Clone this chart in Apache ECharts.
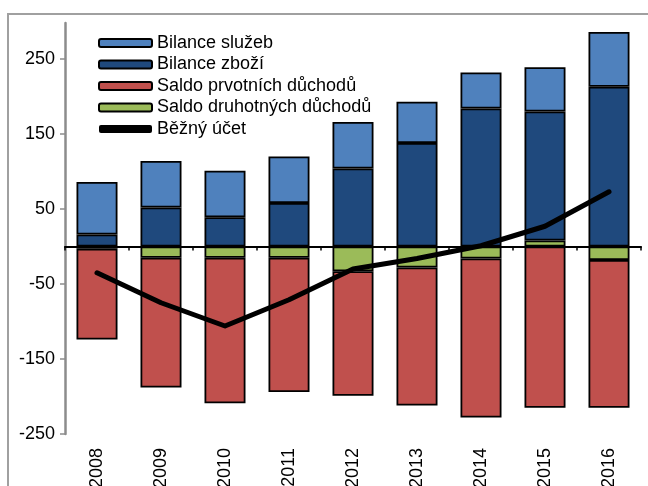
<!DOCTYPE html>
<html>
<head>
<meta charset="utf-8">
<script src="https://cdn.jsdelivr.net/npm/echarts@6/dist/echarts.min.js"></script>
<style>
  html, body { margin: 0; padding: 0; background: #fff; }
  #main { width: 648px; height: 486px; }
</style>
</head>
<body>
<div id="main"></div>
<script>
var years = ['2008', '2009', '2010', '2011', '2012', '2013', '2014', '2015', '2016'];
var sluzby = [70, 62, 62, 62, 62, 55, 48, 59, 73];
var zbozi = [16, 52, 39, 58, 104, 138, 184, 172, 213];
var prvotni = [-121, -173, -194, -179, -166, -184, -212, -215, -197];
var druhotne = [-3, -15, -15, -15, -33, -28, -16, 8, -18];
var bezny = [-35, -75, -106, -71, -30, -16, 1, 27, 73];
var yTicks = [-250, -150, -50, 50, 150, 250];

var font = 'Liberation Sans, Arial, sans-serif';
var chart = echarts.init(document.getElementById('main'));

function bar(name, data, color) {
  return {
    name: name,
    type: 'bar',
    stack: 'all',
    data: data,
    barWidth: 41,
    itemStyle: { color: color, borderColor: '#000', borderWidth: 1.8 }
  };
}

var option = {
  animation: false,
  textStyle: { fontFamily: font },
  graphic: [{
    type: 'rect',
    shape: { x: 8, y: 14, width: 700, height: 600 },
    style: { fill: 'none', stroke: '#a0a0a0', lineWidth: 2 },
    silent: true
  }],
  grid: { left: 65, right: 7, top: 23, bottom: 52, outerBoundsMode: 'none' },
  legend: {
    orient: 'vertical',
    left: 93,
    top: 29,
    itemWidth: 53,
    itemHeight: 8,
    itemGap: 3.5,
    textStyle: { fontSize: 18, color: '#000', fontFamily: font, lineHeight: 18 },
    data: [
      'Bilance služeb',
      'Bilance zboží',
      'Saldo prvotních důchodů',
      'Saldo druhotných důchodů',
      { name: 'Běžný účet', icon: 'roundRect', itemStyle: { color: '#000', borderWidth: 0 } }
    ]
  },
  xAxis: [{
    type: 'category',
    data: years,
    position: 'bottom',
    axisLine: { show: false, onZero: false },
    axisTick: { show: false },
    axisLabel: { rotate: 90, fontSize: 18, color: '#000', margin: 14, fontFamily: font }
  }, {
    type: 'category',
    data: years,
    position: 'top',
    axisLine: { show: true, onZero: true, lineStyle: { color: '#000', width: 2 } },
    axisTick: { show: true, inside: true, length: 4, lineStyle: { color: '#000', width: 1.5 } },
    axisLabel: { show: false }
  }],
  yAxis: {
    type: 'value',
    min: -250,
    max: 298,
    splitLine: { show: false },
    axisLine: { show: true, lineStyle: { color: '#8c8c8c', width: 2.5 } },
    axisTick: { show: true, length: 5, customValues: yTicks, lineStyle: { color: '#8c8c8c', width: 1.5 } },
    axisLabel: { customValues: yTicks, fontSize: 18, color: '#000', margin: 10, fontFamily: font }
  },
  series: [
    bar('Saldo druhotných důchodů', druhotne, '#9bbb59'),
    bar('Saldo prvotních důchodů', prvotni, '#c0504d'),
    bar('Bilance zboží', zbozi, '#1f497d'),
    bar('Bilance služeb', sluzby, '#4f81bd'),
    {
      name: 'Běžný účet',
      type: 'line',
      data: bezny,
      showSymbol: false,
      z: 5,
      lineStyle: { color: '#000', width: 5, cap: 'round', join: 'round' },
      itemStyle: { color: '#000' }
    }
  ]
};
chart.setOption(option);
</script>
</body>
</html>
